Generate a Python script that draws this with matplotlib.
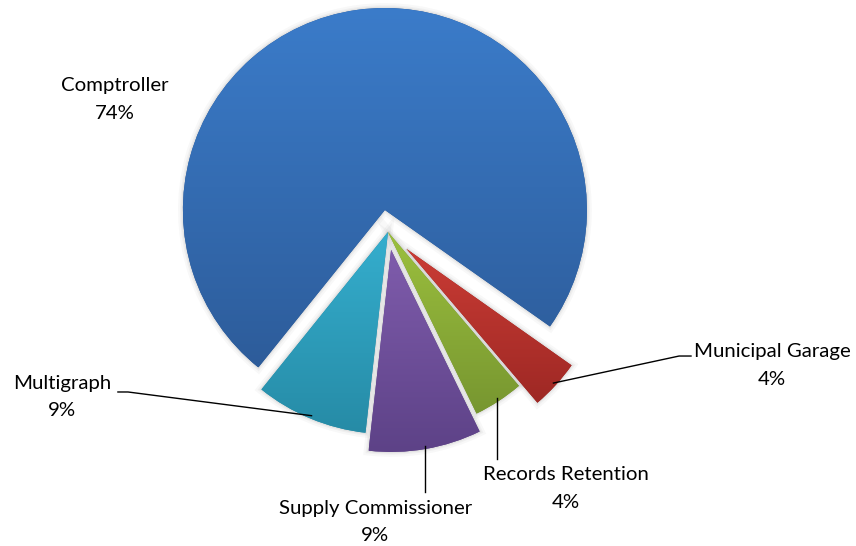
import numpy as np
import matplotlib.pyplot as plt
from matplotlib import colors as clrs
from matplotlib import patheffects as pe

departments = ["Comptroller", "Multigraph", "Supply Commissioner",
               "Records Retention", "Municipal Garage"]
shares = [74, 9, 9, 4, 4]
explode = [0.11, 0.0, 0.09, 0.0, 0.124]

# lighter top / darker bottom of each slice's gradient
top_colors = ["#3B7CCA", "#35AECE", "#7F5CAC", "#9CC03E", "#CA3C35"]
bottom_colors = ["#2D5C9A", "#268BA6", "#5D4287", "#779630", "#9E2824"]

# label centres (data units, pie radius = 1)
label_pos = [(-1.351, 0.656), (-1.614, -0.819), (-0.064, -1.436),
             (0.881, -1.270), (1.901, -0.661)]

plt.rcParams["font.family"] = ["Lato", "DejaVu Sans"]

fig = plt.figure(figsize=(8.56, 5.46), dpi=100)
ax = fig.add_axes([0, 0, 1, 1])

wedges, _ = ax.pie(shares, explode=explode, startangle=-35.2,
                   counterclock=True, colors=bottom_colors,
                   wedgeprops=dict(linewidth=0))

shadow = [pe.Stroke(linewidth=7, foreground="0.55", alpha=0.06),
          pe.Stroke(linewidth=4, foreground="0.55", alpha=0.08),
          pe.Stroke(linewidth=2, foreground="0.5", alpha=0.10),
          pe.Normal()]

for w, c_top, c_bot in zip(wedges, top_colors, bottom_colors):
    w.set_path_effects(shadow)
    ext = w.get_path().get_extents()
    grad = np.linspace(0, 1, 256)[:, None, None]
    rgb = (1 - grad) * np.array(clrs.to_rgb(c_top)) + grad * np.array(clrs.to_rgb(c_bot))
    im = ax.imshow(rgb, extent=(ext.x0, ext.x1, ext.y0, ext.y1), origin="upper",
                   aspect="auto", zorder=w.get_zorder() + 0.5, interpolation="bilinear")
    im.set_clip_path(w)


def anchor_of(w, r_frac=0.985):
    mid = np.deg2rad((w.theta1 + w.theta2) / 2)
    cx, cy = w.center
    return cx + r_frac * w.r * np.cos(mid), cy + r_frac * w.r * np.sin(mid)


fs = 14.7
for name, share, (lx, ly), w in zip(departments, shares, label_pos, wedges):
    ax.text(lx, ly, f"{name}\n{share}%", ha="center", va="center",
            fontsize=fs, color="black", linespacing=1.72, zorder=5)

line_kw = dict(color="black", linewidth=1.0, zorder=4)

# Multigraph: elbow leader ending at the right of the label
ax_, ay_ = anchor_of(wedges[1])
ax.plot([ax_, -1.287, -1.337], [ay_, -0.792, -0.792], **line_kw)

# Municipal Garage: elbow leader ending at the left of the label
ax_, ay_ = anchor_of(wedges[4])
ax.plot([ax_, 1.441, 1.500], [ay_, -0.614, -0.614], **line_kw)

# Supply Commissioner and Records Retention: straight drops
ax_, ay_ = anchor_of(wedges[2])
ax.plot([ax_, ax_], [ay_, -1.287], **line_kw)
ax_, ay_ = anchor_of(wedges[3])
ax.plot([ax_, ax_], [ay_, -1.123], **line_kw)

ax.set_xlim(-388 / 202, (856 - 388) / 202)
ax.set_ylim(-(546 - 232) / 202, 232 / 202)
ax.set_aspect("auto")
ax.axis("off")

fig.savefig("out.png", dpi=100, facecolor="white")
